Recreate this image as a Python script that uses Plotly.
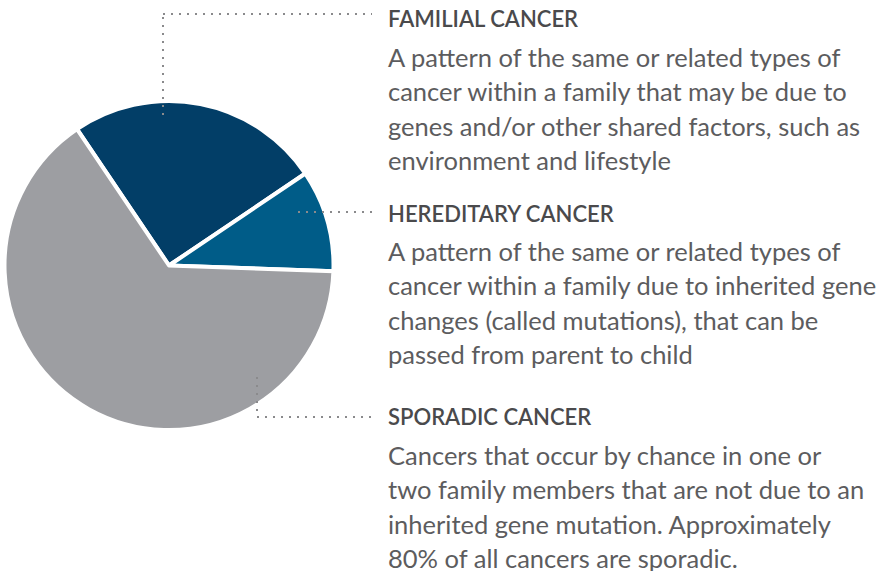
import plotly.graph_objects as go

W, H = 879, 571

categories = ["Familial cancer", "Hereditary cancer", "Sporadic cancer"]
values = [25, 10, 65]
colors = ["#023e67", "#005c88", "#9d9ea2"]

headings = ["FAMILIAL CANCER", "HEREDITARY CANCER", "SPORADIC CANCER"]
bodies = [
    ["A pattern of the same or related types of",
     "cancer within a family that may be due to",
     "genes and/or other shared factors, such as",
     "environment and lifestyle"],
    ["A pattern of the same or related types of",
     "cancer within a family due to inherited gene",
     "changes (called mutations), that can be",
     "passed from parent to child"],
    ["Cancers that occur by chance in one or",
     "two family members that are not due to an",
     "inherited gene mutation. Approximately",
     "80% of all cancers are sporadic."],
]

heading_y = [18.5, 213.5, 416.5]   # pixel centres in the reference, from top
body_first = [57, 251, 455]
line_gap = 34.3
text_x = 386

cx, cy, r = 169, 265.5, 164.5


def px(x):
    return x / W


def py(y):
    return 1 - y / H


fig = go.Figure(go.Pie(
    labels=categories, values=values, sort=False, direction="clockwise",
    rotation=-34, marker=dict(colors=colors, line=dict(color="white", width=4)),
    textinfo="none", hoverinfo="label+percent",
    domain=dict(x=[px(cx - r), px(cx + r)], y=[py(cy + r), py(cy - r)]),
))

ann = []
for i, h in enumerate(headings):
    ann.append(dict(x=px(text_x), y=py(heading_y[i]), xref="paper", yref="paper",
                    text=h, showarrow=False, xanchor="left", yanchor="middle",
                    font=dict(family="Lato", size=22, color="#4a4a4c", weight=600)))
    for j, line in enumerate(bodies[i]):
        ann.append(dict(x=px(text_x), y=py(body_first[i] + j * line_gap), xref="paper", yref="paper",
                        text=line, showarrow=False, xanchor="left", yanchor="middle",
                        font=dict(family="Lato", size=25.5, color="#5c5c5e")))

dot = dict(color="#8a8a8c", width=2, dash="2px,6px")
shapes = [
    dict(type="line", xref="paper", yref="paper", x0=px(163), y0=py(115), x1=px(163), y1=py(14), line=dot),
    dict(type="line", xref="paper", yref="paper", x0=px(163), y0=py(14), x1=px(372), y1=py(14), line=dot),
    dict(type="line", xref="paper", yref="paper", x0=px(298), y0=py(212), x1=px(372), y1=py(212), line=dot),
    dict(type="line", xref="paper", yref="paper", x0=px(257), y0=py(377), x1=px(257), y1=py(417), line=dot),
    dict(type="line", xref="paper", yref="paper", x0=px(257), y0=py(417), x1=px(371), y1=py(417), line=dot),
]

fig.update_layout(width=W, height=H, margin=dict(l=0, r=0, t=0, b=0),
                  paper_bgcolor="white", plot_bgcolor="white", showlegend=False,
                  annotations=ann, shapes=shapes)

fig.write_html("out.html", config={"displayModeBar": False},
               post_script="document.body.style.margin='0';document.body.style.overflow='hidden';")
